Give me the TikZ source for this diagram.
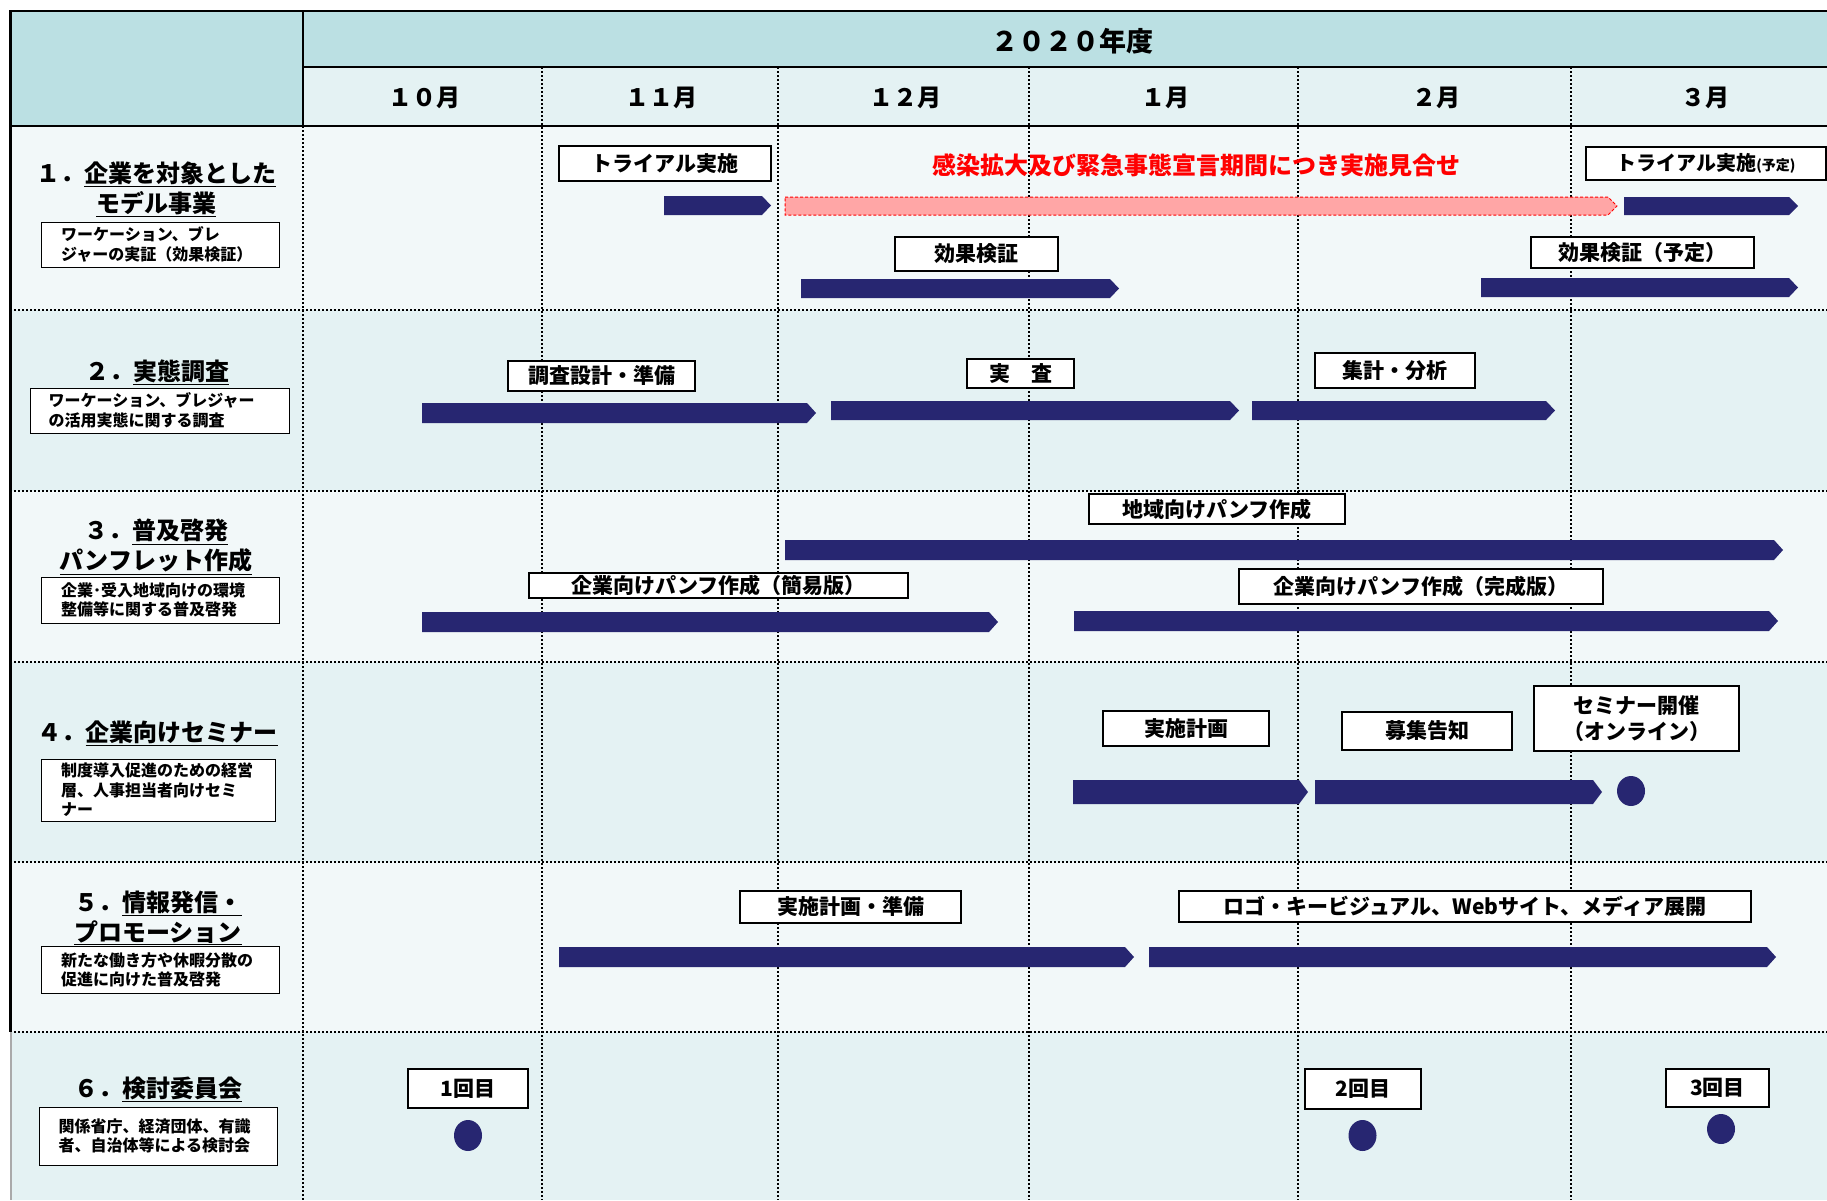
\documentclass[tikz,border=0pt]{standalone}
\usepackage{fontspec}
\setmainfont{Noto Sans CJK JP}
\usetikzlibrary{calc}
\definecolor{hdr}{RGB}{187,224,227}
\definecolor{mon}{RGB}{228,242,243}
\definecolor{rowa}{RGB}{242,248,249}
\definecolor{rowb}{RGB}{228,242,243}
\definecolor{navy}{RGB}{39,38,113}
\definecolor{pinkbar}{RGB}{255,166,166}
\definecolor{redtxt}{RGB}{255,0,0}
\definecolor{greyline}{RGB}{170,170,170}
\newcommand\tbox[6]{\node[lbl,minimum width={#4-#2},minimum height={#5-#3}] (#1) at ({(#2+#4)/2},{(#3+#5)/2}) {#6};}
\newcommand\gbar[4]{\fill[navy] (#1,#3) -- ({#2-9},#3) -- (#2,{(#3+#4)/2}) -- ({#2-9},#4) -- (#1,#4) -- cycle;}
\newcommand\subcell[5]{\node[subbox,minimum width={#4-#2},minimum height={#5-#3}] (#1) at ({(#2+#4)/2},{(#3+#5)/2}) {};}
\begin{document}
\begin{tikzpicture}[x=1pt,y=-1pt,
  lbl/.style={draw=black,line width=1.2pt,fill=white,inner sep=0pt,align=center,font=\bfseries\fontsize{21}{26}\selectfont},
  ttl/.style={align=center,inner sep=0pt,font=\bfseries\fontsize{24}{30}\selectfont},
  subbox/.style={draw=black,line width=1pt,fill=white,inner sep=0pt},
  subtxt/.style={align=left,anchor=west,inner sep=0pt,font=\bfseries\fontsize{16}{19.5}\selectfont},
  monthlbl/.style={font=\bfseries\fontsize{24}{28}\selectfont},
  gridv/.style={line width=1.6pt,dash pattern=on 2pt off 2pt},
  gridh/.style={line width=2pt,dash pattern=on 2pt off 2pt},
  solidline/.style={line width=2.5pt,black}]
\useasboundingbox (0,0) rectangle (1827,1200);
\fill[white] (0,0) rectangle (1827,1200);
% backgrounds
\fill[hdr] (10,11) rectangle (303,126);
\fill[hdr] (303,11) rectangle (1827,67);
\fill[mon] (303,67) rectangle (1827,126);
\fill[rowa] (10,126) rectangle (1827,310);
\fill[rowb] (10,310) rectangle (1827,491);
\fill[rowa] (10,491) rectangle (1827,662);
\fill[rowb] (10,662) rectangle (1827,862);
\fill[rowa] (10,862) rectangle (1827,1032);
\fill[rowb] (10,1032) rectangle (1827,1200);
% grid
\foreach \yy in {310,491,662,862,1032} \draw[gridh] (10,\yy) -- (1827,\yy);
\draw[gridv] (303,126) -- (303,1200);
\foreach \xx in {542,778,1029,1298,1571} \draw[gridv] (\xx,67) -- (\xx,1200);
\draw[solidline] (9,11) -- (1827,11);
\draw[solidline] (303,67) -- (1827,67);
\draw[solidline] (9,126) -- (1827,126);
\draw[solidline] (303,11) -- (303,126);
\draw[line width=3pt,black] (10.5,10) -- (10.5,1032);
\draw[line width=2pt,greyline] (10.5,1032) -- (10.5,1200);
% header
\node[font=\bfseries\fontsize{27}{30}\selectfont] (yr) at (1072,41) {２０２０年度};
\node[monthlbl] (m10) at (424,98) {１０月};
\node[monthlbl] (m11) at (661,98) {１１月};
\node[monthlbl] (m12) at (905,98) {１２月};
\node[monthlbl] (m1) at (1165,98) {１月};
\node[monthlbl] (m2) at (1436,98) {２月};
\node[monthlbl] (m3) at (1705,98) {３月};
% left column
\node[ttl] (t1) at (156,189) {１．\underline{企業を対象とした}\\\underline{モデル事業}};
\subcell{s1}{41.5}{222}{279}{267}
\node[subtxt] (s1t) at ($(s1.west)+(20,0)$) {ワーケーション、ブレ\\ジャーの実証（効果検証）};
\node[ttl] (t2) at (157,372) {２．\underline{実態調査}};
\subcell{s2}{30}{388}{289}{433}
\node[subtxt] (s2t) at ($(s2.west)+(19,0)$) {ワーケーション、ブレジャー\\の活用実態に関する調査};
\node[ttl] (t3) at (156,547) {３．\underline{普及啓発}\\\underline{パンフレット作成}};
\subcell{s3}{41.5}{577}{279}{623}
\node[subtxt] (s3t) at ($(s3.west)+(20,0)$) {企業･受入地域向けの環境\\整備等に関する普及啓発};
\node[ttl] (t4) at (157.5,733) {４．\underline{企業向けセミナー}};
\subcell{s4}{41.5}{759}{275}{821}
\node[subtxt] (s4t) at ($(s4.west)+(20,0)$) {制度導入促進のための経営\\層、人事担当者向けセミ\\ナー};
\node[ttl] (t5) at (158,918) {５．\underline{情報発信・}\\\underline{プロモーション}};
\subcell{s5}{41.5}{946.5}{279}{993}
\node[subtxt] (s5t) at ($(s5.west)+(20,0)$) {新たな働き方や休暇分散の\\促進に向けた普及啓発};
\node[ttl] (t6) at (158,1089) {６．\underline{検討委員会}};
\subcell{s6}{39}{1107}{277}{1165}
\node[subtxt] (s6t) at ($(s6.west)+(20,0)$) {関係省庁、経済団体、有識\\者、自治体等による検討会};
% row 1
\tbox{b11}{559}{146}{771}{181}{トライアル実施}
\gbar{664}{771}{196}{215}
\node[font=\bfseries\fontsize{24}{28}\selectfont,text=redtxt] (warn) at (1196,165) {感染拡大及び緊急事態宣言期間につき実施見合せ};
\draw[draw=red,line width=1pt,dash pattern=on 3pt off 2pt,fill=pinkbar] (785,197) -- (1608,197) -- (1617,206) -- (1608,215) -- (785,215) -- cycle;
\gbar{1624}{1798}{197}{215}
\tbox{b12}{1586}{147}{1826}{180}{{\fontsize{20}{22}\selectfont トライアル実施}{\fontsize{14}{16}\selectfont (予定)}}
\tbox{b13}{895}{237}{1058}{271}{効果検証}
\gbar{801}{1119}{279}{298}
\tbox{b14}{1531}{237}{1754}{268}{効果検証（予定）}
\gbar{1481}{1798}{278}{297}
% row 2
\tbox{b21}{508}{361}{695}{391}{調査設計・準備}
\gbar{422}{816}{403}{423}
\tbox{b22}{967}{359}{1074}{388}{実　査}
\gbar{831}{1239}{401}{420}
\tbox{b23}{1315}{353}{1475}{388}{集計・分析}
\gbar{1252}{1555}{401}{420}
% row 3
\tbox{b31}{1089}{494}{1345}{524}{地域向けパンフ作成}
\gbar{785}{1783}{540}{560}
\tbox{b32}{529}{573}{908}{598}{企業向けパンフ作成（簡易版）}
\gbar{422}{998}{612}{632}
\tbox{b33}{1239}{569}{1603}{604}{企業向けパンフ作成（完成版）}
\gbar{1074}{1778}{611}{631}
% row 4
\tbox{b41}{1103}{711}{1269}{746}{実施計画}
\gbar{1073}{1308}{780}{804}
\tbox{b42}{1342}{712}{1512}{750}{募集告知}
\gbar{1315}{1602}{780}{804}
\fill[navy] (1631,791) ellipse [x radius=14,y radius=15];
\tbox{b43}{1534}{686}{1739}{751}{セミナー開催\\（オンライン）}
% row 5
\tbox{b51}{740}{891}{961}{923}{実施計画・準備}
\gbar{559}{1134}{947}{967}
\tbox{b52}{1179}{891}{1751}{922}{ロゴ・キービジュアル、Webサイト、メディア展開}
\gbar{1149}{1776}{947}{967}
% row 6
\tbox{b61}{408}{1069}{528}{1108}{1回目}
\fill[navy] (468,1135.5) ellipse [x radius=14,y radius=15.5];
\tbox{b62}{1305}{1069}{1421}{1109}{2回目}
\fill[navy] (1362.5,1135.5) ellipse [x radius=14,y radius=15.5];
\tbox{b63}{1666}{1069}{1769}{1107}{3回目}
\fill[navy] (1721,1129) ellipse [x radius=14,y radius=15];
\end{tikzpicture}
\end{document}
